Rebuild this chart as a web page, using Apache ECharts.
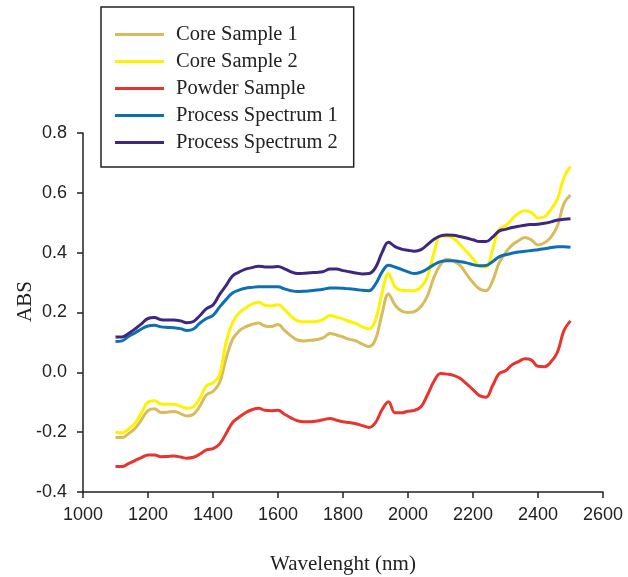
<!DOCTYPE html>
<html>
<head>
<meta charset="utf-8">
<script src="https://cdn.jsdelivr.net/npm/echarts@6/dist/echarts.min.js"></script>
<style>
  html, body { margin: 0; padding: 0; background: #fff; }
  #chart { width: 628px; height: 577px; }
</style>
</head>
<body>
<div id="chart"></div>
<script>
// wavelength grid (nm), 20 nm step
const wavelengths = []
for (let w = 1100; w <= 2500; w += 20) wavelengths.push(w)

const coreSample1 = [
  -0.218, -0.218, -0.205, -0.188, -0.158, -0.128, -0.122, -0.134, -0.133, -0.131,
  -0.138, -0.146, -0.140, -0.112, -0.075, -0.064, -0.035, 0.045, 0.110, 0.138,
  0.152, 0.160, 0.165, 0.155, 0.153, 0.160, 0.140, 0.122, 0.108, 0.105,
  0.107, 0.110, 0.116, 0.130, 0.125, 0.118, 0.110, 0.105, 0.094, 0.086,
  0.110, 0.195, 0.262, 0.225, 0.205, 0.200, 0.203, 0.220, 0.256, 0.318,
  0.360, 0.378, 0.372, 0.358, 0.328, 0.300, 0.279, 0.273, 0.305, 0.365,
  0.400, 0.425, 0.440, 0.451, 0.442, 0.426, 0.433, 0.452, 0.490, 0.565,
  0.592
]
const coreSample2 = [
  -0.200, -0.202, -0.190, -0.170, -0.135, -0.100, -0.095, -0.106, -0.107, -0.107,
  -0.113, -0.120, -0.115, -0.085, -0.045, -0.035, -0.010, 0.100, 0.165, 0.198,
  0.215, 0.228, 0.234, 0.224, 0.222, 0.226, 0.210, 0.188, 0.172, 0.169,
  0.169, 0.170, 0.177, 0.190, 0.184, 0.178, 0.170, 0.163, 0.152, 0.145,
  0.175, 0.265, 0.330, 0.286, 0.274, 0.273, 0.273, 0.285, 0.320, 0.400,
  0.455, 0.455, 0.448, 0.426, 0.404, 0.380, 0.356, 0.352, 0.410, 0.478,
  0.490, 0.512, 0.532, 0.540, 0.534, 0.516, 0.520, 0.545, 0.580, 0.652,
  0.688
]
const powderSample = [
  -0.315, -0.315, -0.305, -0.295, -0.285, -0.276, -0.276, -0.282, -0.281, -0.280,
  -0.283, -0.287, -0.284, -0.273, -0.259, -0.255, -0.240, -0.205, -0.168, -0.150,
  -0.135, -0.125, -0.120, -0.127, -0.128, -0.127, -0.140, -0.152, -0.162, -0.165,
  -0.165, -0.163, -0.158, -0.154, -0.160, -0.165, -0.168, -0.172, -0.178, -0.184,
  -0.168, -0.125, -0.098, -0.135, -0.135, -0.130, -0.127, -0.115, -0.075, -0.030,
  -0.004, -0.006, -0.010, -0.020, -0.038, -0.058, -0.078, -0.083, -0.045, -0.005,
  0.005, 0.025, 0.036, 0.045, 0.041, 0.020, 0.019, 0.035, 0.068, 0.140,
  0.172
]
const processSpectrum1 = [
  0.103, 0.105, 0.120, 0.132, 0.145, 0.155, 0.157, 0.152, 0.150, 0.149,
  0.146, 0.140, 0.145, 0.165, 0.180, 0.190, 0.218, 0.243, 0.265, 0.275,
  0.281, 0.284, 0.286, 0.286, 0.286, 0.286, 0.279, 0.273, 0.270, 0.271,
  0.273, 0.275, 0.278, 0.282, 0.282, 0.281, 0.279, 0.277, 0.274, 0.273,
  0.295, 0.335, 0.358, 0.352, 0.344, 0.336, 0.330, 0.335, 0.346, 0.360,
  0.370, 0.373, 0.373, 0.370, 0.366, 0.360, 0.356, 0.357, 0.370, 0.386,
  0.393, 0.398, 0.402, 0.405, 0.407, 0.410, 0.413, 0.417, 0.420, 0.420,
  0.418
]
const processSpectrum2 = [
  0.118, 0.118, 0.130, 0.145, 0.162, 0.180, 0.183, 0.176, 0.175, 0.175,
  0.172, 0.166, 0.170, 0.190, 0.213, 0.225, 0.260, 0.290, 0.322, 0.335,
  0.345, 0.350, 0.355, 0.352, 0.352, 0.354, 0.346, 0.336, 0.330, 0.331,
  0.333, 0.334, 0.337, 0.345, 0.345, 0.340, 0.336, 0.332, 0.329, 0.330,
  0.350, 0.400, 0.435, 0.420, 0.412, 0.408, 0.405, 0.410, 0.427, 0.445,
  0.456, 0.459, 0.458, 0.454, 0.449, 0.443, 0.437, 0.437, 0.452, 0.472,
  0.478, 0.484, 0.488, 0.492, 0.494, 0.495, 0.498, 0.503, 0.509, 0.512,
  0.513
]

const seriesNames = ['Core Sample 1', 'Core Sample 2', 'Powder Sample', 'Process Spectrum 1', 'Process Spectrum 2']
const seriesValues = [coreSample1, coreSample2, powderSample, processSpectrum1, processSpectrum2]
const colors = ['#d9bb5b', '#fff200', '#e8332e', '#0f6fb3', '#3e2781']

const chart = echarts.init(document.getElementById('chart'))

const series = seriesNames.map((name, i) => ({
  name: name,
  type: 'line',
  data: wavelengths.map((w, j) => [w, seriesValues[i][j]]),
  showSymbol: false,
  smooth: 0.4,
  lineStyle: { width: 3, color: colors[i] },
  itemStyle: { color: colors[i] }
}))

const axisText = { fontFamily: 'Liberation Sans', fontSize: 18, color: '#222' }
const nameText = { fontFamily: 'Liberation Serif', fontSize: 21, color: '#222' }

chart.setOption({
  animation: false,
  color: colors,
  grid: { left: 83, right: 25, top: 133, bottom: 85, outerBoundsMode: 'none' },
  legend: {
    left: 101,
    top: 7,
    orient: 'vertical',
    icon: 'rect',
    itemWidth: 49,
    itemHeight: 3,
    itemGap: 0,
    itemTextGap: 12,
    padding: [14, 16, 11, 14],
    borderColor: '#222',
    borderWidth: 1.5,
    textStyle: { fontFamily: 'Liberation Serif', fontSize: 20.5, color: '#222', lineHeight: 27, padding: [0, 0, 0, 7] },
    data: seriesNames
  },
  xAxis: {
    type: 'value',
    min: 1000,
    max: 2600,
    interval: 200,
    name: 'Wavelenght (nm)',
    nameLocation: 'middle',
    nameGap: 62,
    nameMoveOverlap: false,
    nameTextStyle: nameText,
    axisLine: { onZero: false, lineStyle: { color: '#222', width: 1.5 } },
    axisTick: { length: 6, lineStyle: { color: '#222', width: 1.5 } },
    axisLabel: Object.assign({ margin: 14, formatter: (v) => String(v) }, axisText),
    splitLine: { show: false }
  },
  yAxis: {
    type: 'value',
    min: -0.4,
    max: 0.8,
    interval: 0.2,
    name: 'ABS',
    nameLocation: 'middle',
    nameGap: 47,
    nameMoveOverlap: false,
    nameTextStyle: Object.assign({ padding: [0, 0, 0, 22] }, nameText),
    axisLine: { show: true, onZero: false, lineStyle: { color: '#222', width: 1.5 } },
    axisTick: { show: true, length: 6, lineStyle: { color: '#222', width: 1.5 } },
    axisLabel: Object.assign({ margin: 16, formatter: (v) => v.toFixed(1) }, axisText),
    splitLine: { show: false }
  },
  series: series
})
</script>
</body>
</html>
